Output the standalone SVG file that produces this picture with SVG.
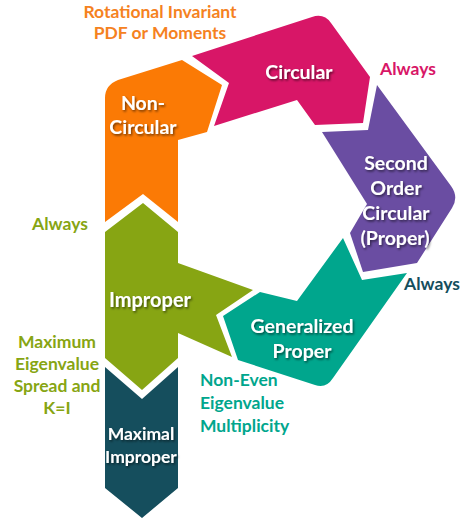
<svg xmlns="http://www.w3.org/2000/svg" width="462" height="520" viewBox="0 0 462 520">
<defs>
<filter id="sh" x="-20%" y="-30%" width="140%" height="160%">
<feDropShadow dx="1.2" dy="1.6" stdDeviation="1.3" flood-color="#000" flood-opacity="0.55"/>
</filter>
<style>
.node text{font-family:Lato,"Open Sans","Liberation Sans",sans-serif;font-weight:700;font-size:19.5px;fill:#fff;text-anchor:middle;filter:url(#sh)}
.lbl{font-family:Lato,"Open Sans","Liberation Sans",sans-serif;font-weight:700;font-size:17.5px;text-anchor:middle}
</style>
</defs>
<rect width="462" height="520" fill="#fff"/>
<g id="connectors"></g>
<g id="non-circular" class="node">
<path d="M105,222 L105,98 Q105,85 118,80 L182,60 L222,85 L207,132 L178,140 L178,222 L143,194 Z" fill="#FB7A05"/>
<text x="143" y="110">Non-</text>
<text x="143" y="134">Circular</text>
</g>
<g id="circular" class="node">
<path d="M192,56 L312,17 Q324,13 331,23 L370,77 L363,123 L315,125 L297,100 L214,126 L229,83 Z" fill="#D81667"/>
<text x="299" y="79">Circular</text>
</g>
<g id="second-order" class="node">
<path d="M377,85 L451,186 Q459,197 452,208 L417,263 L363,272 L350,233 L367,204 L322,132 L368,130 Z" fill="#6A4DA2"/>
<text x="396" y="170">Second</text>
<text x="396" y="195">Order</text>
<text x="396" y="220">Circular</text>
<text x="395" y="245">(Proper)</text>
</g>
<g id="generalized" class="node">
<path d="M343,238 L362,280 L407,273 L333,378 Q326,389 315,385 L238,360 L223,316 L260,292 L297,301 Z" fill="#00A68D"/>
<text x="302" y="333">Generalized</text>
<text x="302" y="358">Proper</text>
</g>
<g id="improper" class="node">
<path d="M105,232 L143,203 L178,232 L178,263 L253,290 L216,315 L232,357 L178,333 L178,358 L142,390 L105,358 Z" fill="#87A513"/>
<text x="150" y="307" style="font-size:20px">Improper</text>
</g>
<g id="maximal" class="node">
<path d="M105,367 L142,399 L178,367 L178,488 L142,518 L105,488 Z" fill="#154E5D"/>
<text x="141" y="440" style="font-size:17.5px">Maximal</text>
<text x="141" y="463" style="font-size:17.5px">Improper</text>
</g>
<g id="labels">
<text class="lbl" x="160" y="18" fill="#F5821F">Rotational Invariant</text>
<text class="lbl" x="160" y="39" fill="#F5821F">PDF or Moments</text>
<text class="lbl" x="408" y="75" fill="#D81667">Always</text>
<text class="lbl" x="60" y="230" fill="#87A513">Always</text>
<text class="lbl" x="432" y="290" fill="#154E5D">Always</text>
<text class="lbl" x="57" y="348" fill="#87A513">Maximum</text>
<text class="lbl" x="57" y="370" fill="#87A513">Eigenvalue</text>
<text class="lbl" x="57" y="392" fill="#87A513">Spread and</text>
<text class="lbl" x="57" y="414" fill="#87A513">K=I</text>
<text class="lbl" x="200" y="386" fill="#00A68D" style="text-anchor:start">Non-Even</text>
<text class="lbl" x="200" y="409" fill="#00A68D" style="text-anchor:start">Eigenvalue</text>
<text class="lbl" x="200" y="432" fill="#00A68D" style="text-anchor:start">Multiplicity</text>
</g>
</svg>
